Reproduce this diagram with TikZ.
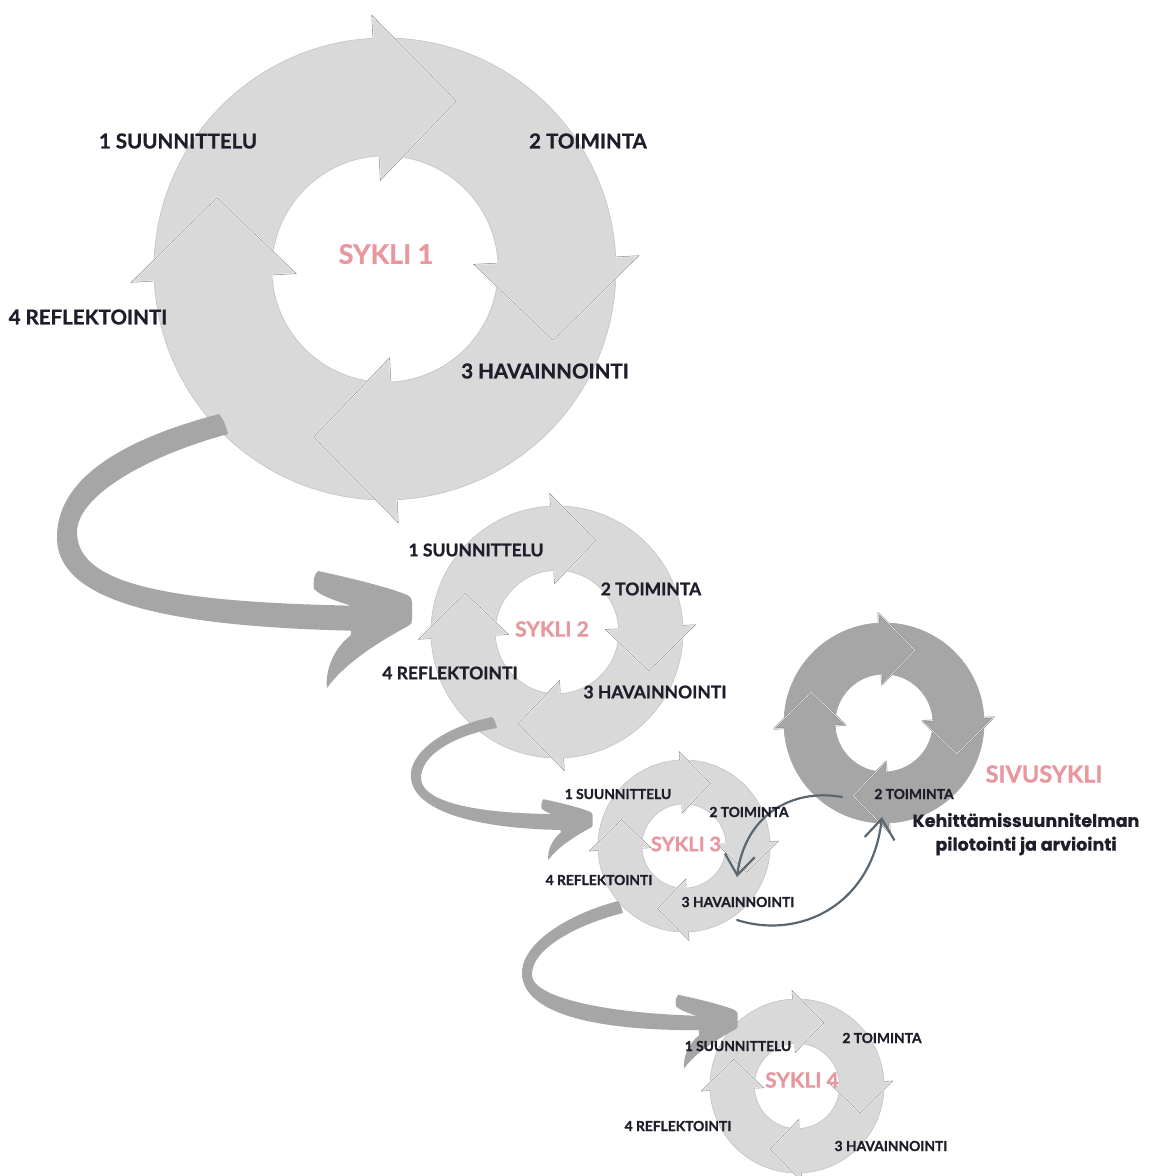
\documentclass[tikz,border=0pt]{standalone}
\usepackage{fontspec}
\setmainfont{Lato}[BoldFeatures={FakeBold=0.9}]
\newfontfamily\kfont{Poppins}[BoldFeatures={FakeBold=0.4}]
\usetikzlibrary{arrows.meta}
\definecolor{ringlight}{HTML}{D9D9D9}
\definecolor{ringdark}{HTML}{A6A6A6}
\definecolor{arrowgray}{HTML}{A6A6A6}
\definecolor{edgegray}{HTML}{8E8E8E}
\definecolor{rimgray}{HTML}{C6C6C6}
\definecolor{pinktxt}{HTML}{E8979F}
\definecolor{labeltxt}{HTML}{1E1E2A}
\definecolor{connblue}{HTML}{5B6770}

% #1 name, #2 cx, #3 cy, #4 R, #5 fill, #6 edge, #7 rim, #8 halo
\newcommand\cyclering[8]{%
  \coordinate (#1) at (#2,#3);
  \pgfmathsetmacro\rout{#4}%
  \pgfmathsetmacro\rin{0.49*#4}%
  \fill[#5, even odd rule] (#1) circle[radius=\rout pt] (#1) circle[radius=\rin pt];
  \draw[#7, line width=0.7pt] (#1) circle[radius=\rout pt] (#1) circle[radius=\rin pt];
  \foreach \ba in {93,3,-87,183}{%
    \pgfmathsetmacro\ta{\ba-26}%
    \coordinate (#1A) at ({#2+1.10*\rout*cos(\ba)},{#3-1.10*\rout*sin(\ba)});
    \coordinate (#1A1) at ({#2+\rout*cos(\ba)},{#3-\rout*sin(\ba)});
    \coordinate (#1B1) at ({#2+\rin*cos(\ba)},{#3-\rin*sin(\ba)});
    \coordinate (#1B) at ({#2+0.385*\rout*cos(\ba)},{#3-0.385*\rout*sin(\ba)});
    \coordinate (#1T) at ({#2+0.79*\rout*cos(\ta)},{#3-0.79*\rout*sin(\ta)});
    \fill[#5] (#1A) -- (#1T) -- (#1B) -- cycle;
    \draw[#8, line width=1.6pt, line join=round] (#1A1) -- (#1A) -- (#1T) -- (#1B) -- (#1B1);
    \draw[#6, line width=0.55pt] (#1A1) -- (#1A) -- (#1T) -- (#1B) -- (#1B1);
  }%
}

% curved-arrow head, local coords, tip centre at origin, pointing right (y down)
\newcommand\bighead{%
  (-97,-22) .. controls (-98,-30) and (-97,-37) .. (-93,-40)
  .. controls (-60,-33) and (-20,-23) .. (-4,-16)
  .. controls (0,-14) and (1,-12) .. (1,-9) -- (1,9)
  .. controls (1,12) and (0,14) .. (-3,15)
  .. controls (-25,27) and (-65,50) .. (-84,77)
  .. controls (-86,60) and (-78,38) .. (-60,24) -- (-62,-6)
  .. controls (-75,-10) and (-90,-15) .. (-97,-22) -- cycle}

\tikzset{
  lblbase/.style={text=labeltxt, inner sep=0pt},
  lblA/.style={lblbase, font=\fontsize{20.5}{24}\selectfont\bfseries},
  lblB/.style={lblbase, font=\fontsize{17.5}{21}\selectfont\bfseries},
  lblC/.style={lblbase, font=\fontsize{13.8}{16}\selectfont\bfseries},
  sykA/.style={text=pinktxt, inner sep=0pt, font=\fontsize{27}{30}\selectfont\bfseries},
  sykB/.style={text=pinktxt, inner sep=0pt, font=\fontsize{21}{24}\selectfont\bfseries},
  sykC/.style={text=pinktxt, inner sep=0pt, font=\fontsize{20}{23}\selectfont\bfseries},
  sivutxt/.style={text=labeltxt, inner sep=0pt, font=\fontsize{17.5}{20}\selectfont\kfont\bfseries},
  conn/.style={draw=connblue, line width=2.2pt, line cap=round,
    -{Straight Barb[length=20pt,width=30pt,line width=2.2pt]}},
  bigarrow/.style={fill=arrowgray}
}

\begin{document}
\begin{tikzpicture}[x=1pt,y=-1pt]
\useasboundingbox (0,0) rectangle (1156,1176);
\fill[white] (0,0) rectangle (1156,1176);

% cycles
\cyclering{cyc1}{385}{269}{231}{ringlight}{edgegray}{rimgray}{white}
\cyclering{cyc2}{557}{632}{126}{ringlight}{edgegray}{rimgray}{white}
\cyclering{cyc3}{684}{846}{86}{ringlight}{edgegray}{rimgray}{white}
\cyclering{cyc4}{797}{1086}{87}{ringlight}{edgegray}{rimgray}{white}
\cyclering{sivu}{884}{723}{100}{ringdark}{white!90!ringdark}{ringdark}{ringdark!80!black}

% big curved arrows
\fill[bigarrow] (219,414) .. controls (120,440) and (55,480) .. (57,540)
  .. controls (60,600) and (160,628) .. (371,631) -- (371,606)
  .. controls (170,603) and (78,585) .. (77,533)
  .. controls (76,495) and (150,455) .. (228,434)
  .. controls (226,426) and (223,418) .. (219,414) -- cycle;
\fill[bigarrow, shift={(411,611)}] \bighead;

\fill[bigarrow] (492,717) .. controls (440,728) and (408,755) .. (411,778)
  .. controls (414,812) and (480,830) .. (571,830) -- (571,814)
  .. controls (490,815) and (423,805) .. (421,779)
  .. controls (420,755) and (455,735) .. (497,728)
  .. controls (496,723) and (494,719) .. (492,717) -- cycle;
\fill[bigarrow, shift={(592,820)}, scale=0.52] \bighead;

\fill[bigarrow] (618,901) .. controls (565,915) and (520,945) .. (522,975)
  .. controls (525,1015) and (600,1032) .. (712,1030) -- (712,1016)
  .. controls (620,1015) and (535,1000) .. (532,976)
  .. controls (530,950) and (575,925) .. (623,913)
  .. controls (622,908) and (620,904) .. (618,901) -- cycle;
\fill[bigarrow, shift={(737,1020)}, scale=0.63] \bighead;

% thin connectors between SYKLI 3 and SIVUSYKLI
\coordinate (sivuout) at (842,797);
\coordinate (c3in) at (737,877);
\coordinate (c3out) at (737,920);
\coordinate (sivuin) at (882,817);
\draw[conn] (sivuout) .. controls (792,788) and (745,815) .. (c3in);
\draw[conn] (c3out) .. controls (800,940) and (872,905) .. (sivuin);

% labels cycle 1
\node[lblA] (c1s) at (178,141) {1 SUUNNITTELU};
\node[lblA] (c1t) at (588,141) {2 TOIMINTA};
\node[lblA] (c1r) at (88,317) {4 REFLEKTOINTI};
\node[lblA] (c1h) at (545,371) {3 HAVAINNOINTI};
\node[sykA] (s1) at (386,254) {SYKLI 1};
% cycle 2
\node[lblB] (c2s) at (476,550) {1 SUUNNITTELU};
\node[lblB] (c2t) at (651,589) {2 TOIMINTA};
\node[lblB] (c2r) at (450,673) {4 REFLEKTOINTI};
\node[lblB] (c2h) at (655,692) {3 HAVAINNOINTI};
\node[sykB] (s2) at (552,629) {SYKLI 2};
% cycle 3
\node[lblC] (c3s) at (618,794) {1 SUUNNITTELU};
\node[lblC] (c3t) at (749,812) {2 TOIMINTA};
\node[lblC] (c3r) at (599,880) {4 REFLEKTOINTI};
\node[lblC] (c3h) at (738,902) {3 HAVAINNOINTI};
\node[sykC] (s3) at (686,844) {SYKLI 3};
% cycle 4
\node[lblC] (c4s) at (738,1046) {1 SUUNNITTELU};
\node[lblC] (c4t) at (882,1038) {2 TOIMINTA};
\node[lblC] (c4r) at (678,1126) {4 REFLEKTOINTI};
\node[lblC] (c4h) at (891,1146) {3 HAVAINNOINTI};
\node[sykB] (s4) at (802,1080) {SYKLI 4};
% side cycle
\node[lblC] (svt) at (914,794) {2 TOIMINTA};
\node[sykC, font=\fontsize{23.5}{26}\selectfont\bfseries] (sv) at (1044,774) {SIVUSYKLI};
\node[sivutxt] (k1) at (1026,820) {Kehittämissuunnitelman};
\node[sivutxt] (k2) at (1026,846) {pilotointi ja arviointi};
\end{tikzpicture}
\end{document}
